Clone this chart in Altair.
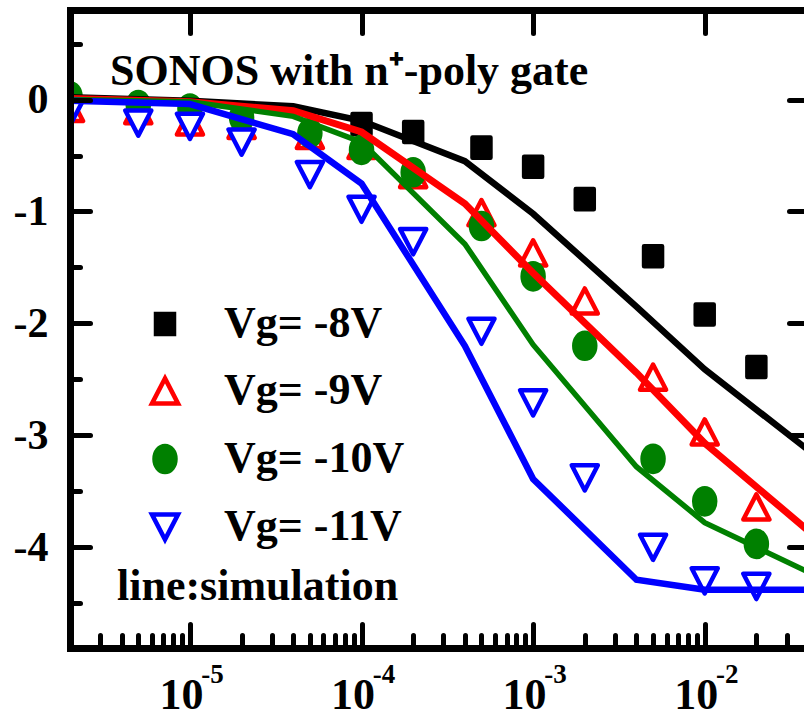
import math
import altair as alt
import pandas as pd

# ---------------- data ----------------
series = ["Vg= -8V", "Vg= -9V", "Vg= -10V", "Vg= -11V"]
colors = ["#000000", "#ff0000", "#008000", "#0000ff"]
fills = ["#000000", "#ffffff", "#008000", "#ffffff"]

# measured points
x_meas = [2e-6, 5e-6, 1e-5, 2e-5, 5e-5, 1e-4, 2e-4, 5e-4, 1e-3, 2e-3, 5e-3, 1e-2, 2e-2]
x_meas_8 = [1e-4, 2e-4, 5e-4, 1e-3, 2e-3, 5e-3, 1e-2, 2e-2]
meas_8 = [-0.22, -0.29, -0.43, -0.60, -0.89, -1.40, -1.92, -2.39]
meas_9 = [-0.08, -0.10, -0.20, -0.23, -0.32, -0.41, -0.67, -1.01, -1.37, -1.80, -2.48, -2.97, -3.64]
meas_10 = [0.03, -0.05, -0.08, -0.16, -0.30, -0.45, -0.65, -1.13, -1.58, -2.20, -3.21, -3.59, -3.97]
meas_11 = [-0.12, -0.21, -0.24, -0.38, -0.67, -0.98, -1.27, -2.07, -2.71, -3.38, -4.00, -4.30, -4.35]

# simulation lines
x_sim = [2e-6, 1e-5, 4e-5, 1e-4, 4e-4, 1e-3, 4e-3, 1e-2, 4e-2]
sim_8 = [0.02, -0.01, -0.06, -0.19, -0.55, -1.02, -1.85, -2.41, -3.13]
sim_9 = [0.01, -0.02, -0.10, -0.29, -0.93, -1.55, -2.44, -3.07, -3.85]
sim_10 = [0.0, -0.02, -0.15, -0.38, -1.29, -2.19, -3.28, -3.78, -4.22]
sim_11 = [-0.01, -0.04, -0.31, -0.75, -2.20, -3.39, -4.29, -4.38, -4.38]

# ticks / labels
x_major = [1e-5, 1e-4, 1e-3, 1e-2]
x_major_base = ["10", "10", "10", "10"]
x_major_exp = ["-5", "-4", "-3", "-2"]
x_minor = [k * 10.0 ** e for e in (-6, -5, -4, -3, -2) for k in range(2, 10)]
y_major = [0, -1, -2, -3, -4]
y_major_labels = ["0", "-1", "-2", "-3", "-4"]
y_minor = [0.5, -0.5, -1.5, -2.5, -3.5, -4.5]

title_text = "SONOS with n\u207a-poly gate"
note_text = "line:simulation"

x_domain = [2e-6, 0.0379]
y_domain = [-4.9, 0.8]

# ---------------- tables ----------------
rows = []
for s, xs, ys in zip(series, [x_meas_8, x_meas, x_meas, x_meas], [meas_8, meas_9, meas_10, meas_11]):
    for xv, yv in zip(xs, ys):
        rows.append({"x": xv, "y": yv, "series": s})
pts = pd.DataFrame(rows)

sims = [pd.DataFrame({"x": x_sim, "y": ys}) for ys in (sim_8, sim_9, sim_10, sim_11)]

FONT = "Liberation Serif"
W, H = 734, 638

xscale = alt.Scale(type="log", domain=x_domain, nice=False)
yscale = alt.Scale(domain=y_domain, nice=False)


def label_expr(values, labels, use_log):
    parts = []
    for v, lab in zip(values, labels):
        if use_log:
            cond = f"abs(log(datum.value)/LN10 - ({math.log10(v)})) < 0.01"
        else:
            cond = f"abs(datum.value - ({v})) < 0.01"
        parts.append(f"{cond} ? '{lab}'")
    return " : ".join(parts) + " : ''"


def ax(**kw):
    base = dict(grid=False, title=None, zindex=1, labelFont=FONT, labelFontWeight="bold",
                labelColor="black", labelOverlap=False, tickColor="black", domainColor="black",
                tickCap="round", domainCap="square", domainWidth=7, tickWidth=5)
    base.update(kw)
    return alt.Axis(**base)


ax_bottom_labels = ax(orient="bottom", values=x_major, labelExpr=label_expr(x_major, x_major_base, True),
                      ticks=False, tickSize=0, domain=True, labelFontSize=44,
                      labelBaseline="alphabetic", labelPadding=60, labelOffset=-9, labelAlign="center")
ax_bottom_exp = ax(orient="bottom", values=x_major, labelExpr=label_expr(x_major, x_major_exp, True),
                   ticks=False, tickSize=0, domain=False, labelFontSize=27,
                   labelBaseline="alphabetic", labelPadding=34, labelOffset=22, labelAlign="center")
ax_bottom_major = ax(orient="top", offset=-H, values=x_major, labels=False, domain=False, tickSize=24)
ax_bottom_minor = ax(orient="top", offset=-H, values=x_minor, labels=False, domain=False, tickSize=13)
ax_top = ax(orient="bottom", offset=-H, values=x_major, labels=False, domain=True, tickSize=23)

ax_left_labels = ax(orient="left", values=y_major, labelExpr=label_expr(y_major, y_major_labels, False),
                    ticks=False, tickSize=0, domain=True, labelFontSize=42,
                    labelPadding=22, labelBaseline="middle")
ax_left_major = ax(orient="right", offset=-W, values=y_major, labels=False, domain=False, tickSize=20)
ax_left_minor = ax(orient="right", offset=-W, values=y_minor, labels=False, domain=False, tickSize=10)
ax_right = ax(orient="left", offset=-W, values=y_major, labels=False, domain=False, tickSize=15)

shapes = [
    "M-0.6,-0.67H0.6V0.67H-0.6Z",
    "M0,-0.84L0.87,0.84L-0.87,0.84Z",
    "M0,-0.87A0.7,0.87 0 1,1 0,0.87A0.7,0.87 0 1,1 0,-0.87Z",
    "M-0.87,-0.84L0.87,-0.84L0,0.84Z",
]

legend = alt.Legend(title=None, orient="none", legendX=73, legendY=292, padding=0,
                    labelFont=FONT, labelFontWeight="bold", labelFontSize=44, labelColor="black",
                    labelLimit=600, labelOffset=37, symbolSize=900, symbolStrokeWidth=4.5,
                    rowPadding=23)

points = alt.Chart(pts).mark_point(size=900, strokeWidth=4.5, opacity=1, fillOpacity=1,
                                   strokeJoin="round", clip=True).encode(
    x=alt.X("x:Q", scale=xscale, axis=ax_bottom_labels),
    y=alt.Y("y:Q", scale=yscale, axis=ax_left_labels),
    shape=alt.Shape("series:N", scale=alt.Scale(domain=series, range=shapes), legend=legend),
    stroke=alt.Stroke("series:N", scale=alt.Scale(domain=series, range=colors), legend=legend),
    fill=alt.Fill("series:N", scale=alt.Scale(domain=series, range=fills), legend=legend),
)


def axis_layer(xa, ya):
    return alt.Chart(pts).mark_point(opacity=0, size=1).encode(
        x=alt.X("x:Q", scale=xscale, axis=xa),
        y=alt.Y("y:Q", scale=yscale, axis=ya),
    )


axis_layers = [
    axis_layer(ax_bottom_exp, ax_left_major),
    axis_layer(ax_bottom_major, ax_left_minor),
    axis_layer(ax_bottom_minor, ax_right),
    axis_layer(ax_top, None),
]

lines = [
    alt.Chart(df).mark_line(color=c, strokeWidth=w, clip=True).encode(
        x=alt.X("x:Q", scale=xscale, axis=None),
        y=alt.Y("y:Q", scale=yscale, axis=None),
    )
    for df, c, w in zip(sims, colors, [6.5, 7, 5.5, 6.5])
]

title_layer = alt.Chart(pd.DataFrame({"t": [title_text]})).mark_text(
    x=40, y=75, align="left", baseline="alphabetic", font=FONT, fontWeight="bold",
    fontSize=44, color="black").encode(text="t:N")
note_layer = alt.Chart(pd.DataFrame({"t": [note_text]})).mark_text(
    x=47, y=590, align="left", baseline="alphabetic", font=FONT, fontWeight="bold",
    fontSize=44, color="black").encode(text="t:N")

chart = alt.layer(points, *axis_layers, *lines, title_layer, note_layer).resolve_axis(
    x="independent", y="independent"
).properties(
    width=W, height=H,
    autosize=alt.AutoSizeParams(type="none"),
    padding={"left": 70, "top": 10, "right": 0, "bottom": 69},
    background="white",
).configure_view(stroke=None)

chart.save("out.html", embed_options={"renderer": "svg", "actions": False})
